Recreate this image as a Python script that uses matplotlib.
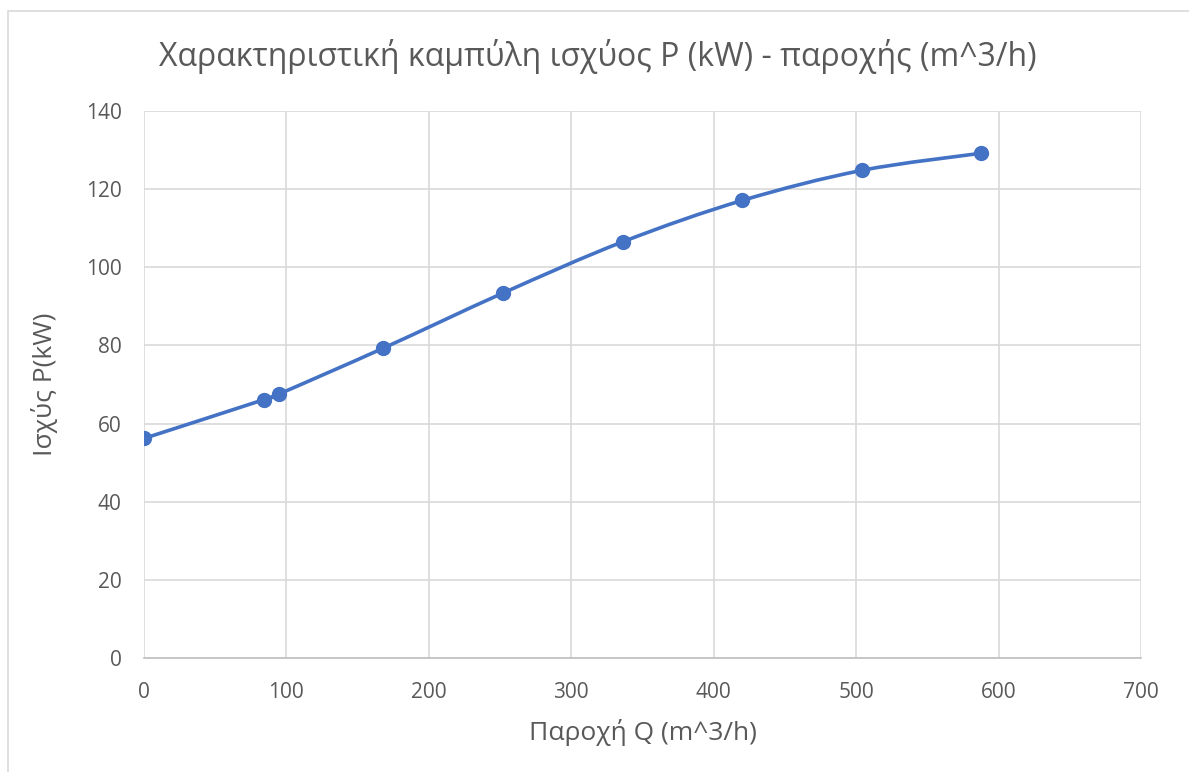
import matplotlib.pyplot as plt
from matplotlib.path import Path
from matplotlib.patches import PathPatch, Rectangle
import numpy as np

# values
flow = [0, 84, 95, 168, 252, 336, 420, 504, 588]          # Q (m^3/h)
power = [56.2, 66.1, 67.6, 79.3, 93.4, 106.5, 117.1, 124.8, 129.2]  # P (kW)
x_ticks = [0, 100, 200, 300, 400, 500, 600, 700]
y_ticks = [0, 20, 40, 60, 80, 100, 120, 140]

title = 'Χαρακτηριστική καμπύλη ισχύος P (kW) - παροχής (m^3/h)'
xlabel = 'Παροχή Q (m^3/h)'
ylabel = 'Ισχύς P(kW)'

blue = '#4472C4'
grid_c = '#d9d9d9'
txt_c = '#595959'

plt.rcParams['font.family'] = ['Open Sans', 'DejaVu Sans']

fig = plt.figure(figsize=(11.89, 7.72), dpi=100)
ax = fig.add_axes([144/1189, 1-658/772, (1141-144)/1189, (658-111)/772])

# excel-like smoothed line (catmull-rom as cubic bezier)
pts = np.column_stack([flow, power])
verts = [tuple(pts[0])]
codes = [Path.MOVETO]
for i in range(len(pts)-1):
    p0 = pts[max(i-1, 0)]
    p1 = pts[i]
    p2 = pts[i+1]
    p3 = pts[min(i+2, len(pts)-1)]
    c1 = p1 + (p2-p0)/6
    c2 = p2 - (p3-p1)/6
    verts += [tuple(c1), tuple(c2), tuple(p2)]
    codes += [Path.CURVE4]*3
ax.add_patch(PathPatch(Path(verts, codes), fill=False, edgecolor=blue, lw=2.6, zorder=3,
                       capstyle='round', joinstyle='round'))
ax.plot(flow, power, 'o', color=blue, ms=10, zorder=4)

ax.set_xlim(0, 700)
ax.set_ylim(0, 140)
ax.set_xticks(x_ticks)
ax.set_yticks(y_ticks)
ax.grid(True, color=grid_c, lw=1.2)
ax.set_axisbelow(True)
for s in ['top', 'right', 'left']:
    ax.spines[s].set_visible(False)
ax.spines['bottom'].set_color('#bfbfbf')
ax.spines['bottom'].set_linewidth(1.2)
ax.tick_params(length=0, labelsize=15, colors=txt_c)
ax.tick_params(axis='y', pad=16)
ax.tick_params(axis='x', pad=17)

ax.set_xlabel(xlabel, fontsize=19, color=txt_c, labelpad=12)
ax.set_ylabel(ylabel, fontsize=19, color=txt_c, labelpad=20)
fig.text(598/1189, 1-57/772, title, fontsize=23, color=txt_c, ha='center', va='center')

# chart border
fig.patches.append(Rectangle((8/1189, -0.1), 1.2, 1-11/772+0.1, transform=fig.transFigure,
                             fill=False, edgecolor='#d9d9d9', lw=1.2))

fig.savefig('out.png', dpi=100)
